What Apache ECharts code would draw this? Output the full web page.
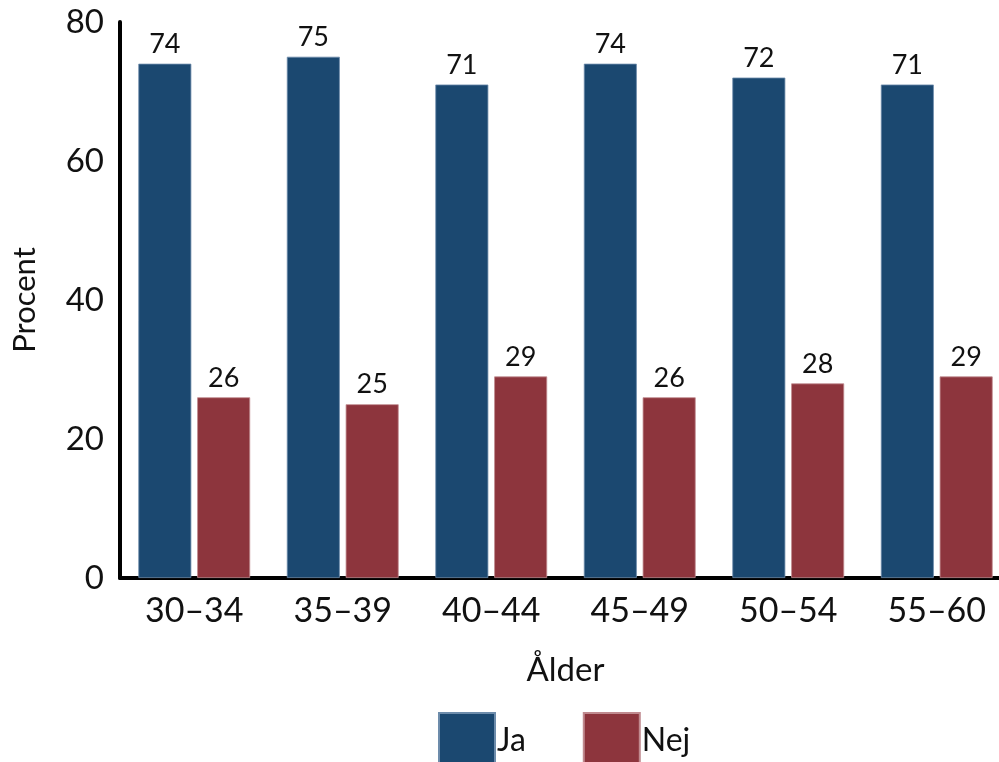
<!DOCTYPE html>
<html>
<head>
<meta charset="utf-8">
<script src="https://cdn.jsdelivr.net/npm/echarts@6/dist/echarts.min.js"></script>
<style>
html,body{margin:0;padding:0;background:#fff;}
#chart{width:999px;height:762px;}
</style>
</head>
<body>
<div id="chart"></div>
<script>
const categories = ['30–34','35–39','40–44','45–49','50–54','55–60'];
const jaValues = [74, 75, 71, 74, 72, 71];
const nejValues = [26, 25, 29, 26, 28, 29];
const yTicks = [0, 20, 40, 60, 80];
const seriesNames = ['Ja', 'Nej'];
const xAxisName = 'Ålder';
const yAxisName = 'Procent';

const FONT = 'Lato';
const chart = echarts.init(document.getElementById('chart'), null, {renderer:'canvas'});
const labelStyle = {show:true, position:'top', distance:6, color:'#111', fontSize:27, fontFamily:FONT};
chart.setOption({
  animation:false,
  textStyle:{fontFamily:FONT},
  grid:{left:120, top:22, width:891, height:556, containLabel:false, outerBoundsMode:'none'},
  legend:{
    data:seriesNames, left:438, top:712, padding:0, itemWidth:56, itemHeight:56, itemGap:57,
    icon:'rect',
    textStyle:{fontSize:32, fontFamily:FONT, color:'#111', padding:[0,0,0,-3]}
  },
  xAxis:{
    type:'category', data:categories,
    name:xAxisName, nameLocation:'middle', nameGap:76,
    nameTextStyle:{fontSize:33, color:'#111', fontFamily:FONT},
    axisLine:{lineStyle:{color:'#000', width:4}},
    axisTick:{show:false},
    axisLabel:{fontSize:34, color:'#111', margin:16, fontFamily:FONT}
  },
  yAxis:{
    type:'value', min:yTicks[0], max:yTicks[yTicks.length-1], interval:20,
    name:yAxisName, nameLocation:'middle', nameGap:80,
    nameTextStyle:{fontSize:31, color:'#111', fontFamily:FONT},
    axisLine:{show:true, lineStyle:{color:'#000', width:4}},
    axisTick:{show:false},
    splitLine:{show:false},
    axisLabel:{fontSize:33, color:'#111', margin:16, fontFamily:FONT, verticalAlign:'middle', padding:[9,0,0,0]}
  },
  series:[
    {name:seriesNames[0], type:'bar', data:jaValues, barWidth:53, barGap:'11%',
     itemStyle:{color:'#1b4870', borderColor:'#6d8cab', borderWidth:0.8}, label:labelStyle},
    {name:seriesNames[1], type:'bar', data:nejValues, barWidth:53,
     itemStyle:{color:'#8d353d', borderColor:'#c08a8f', borderWidth:0.8}, label:labelStyle}
  ]
});
</script>
</body>
</html>
